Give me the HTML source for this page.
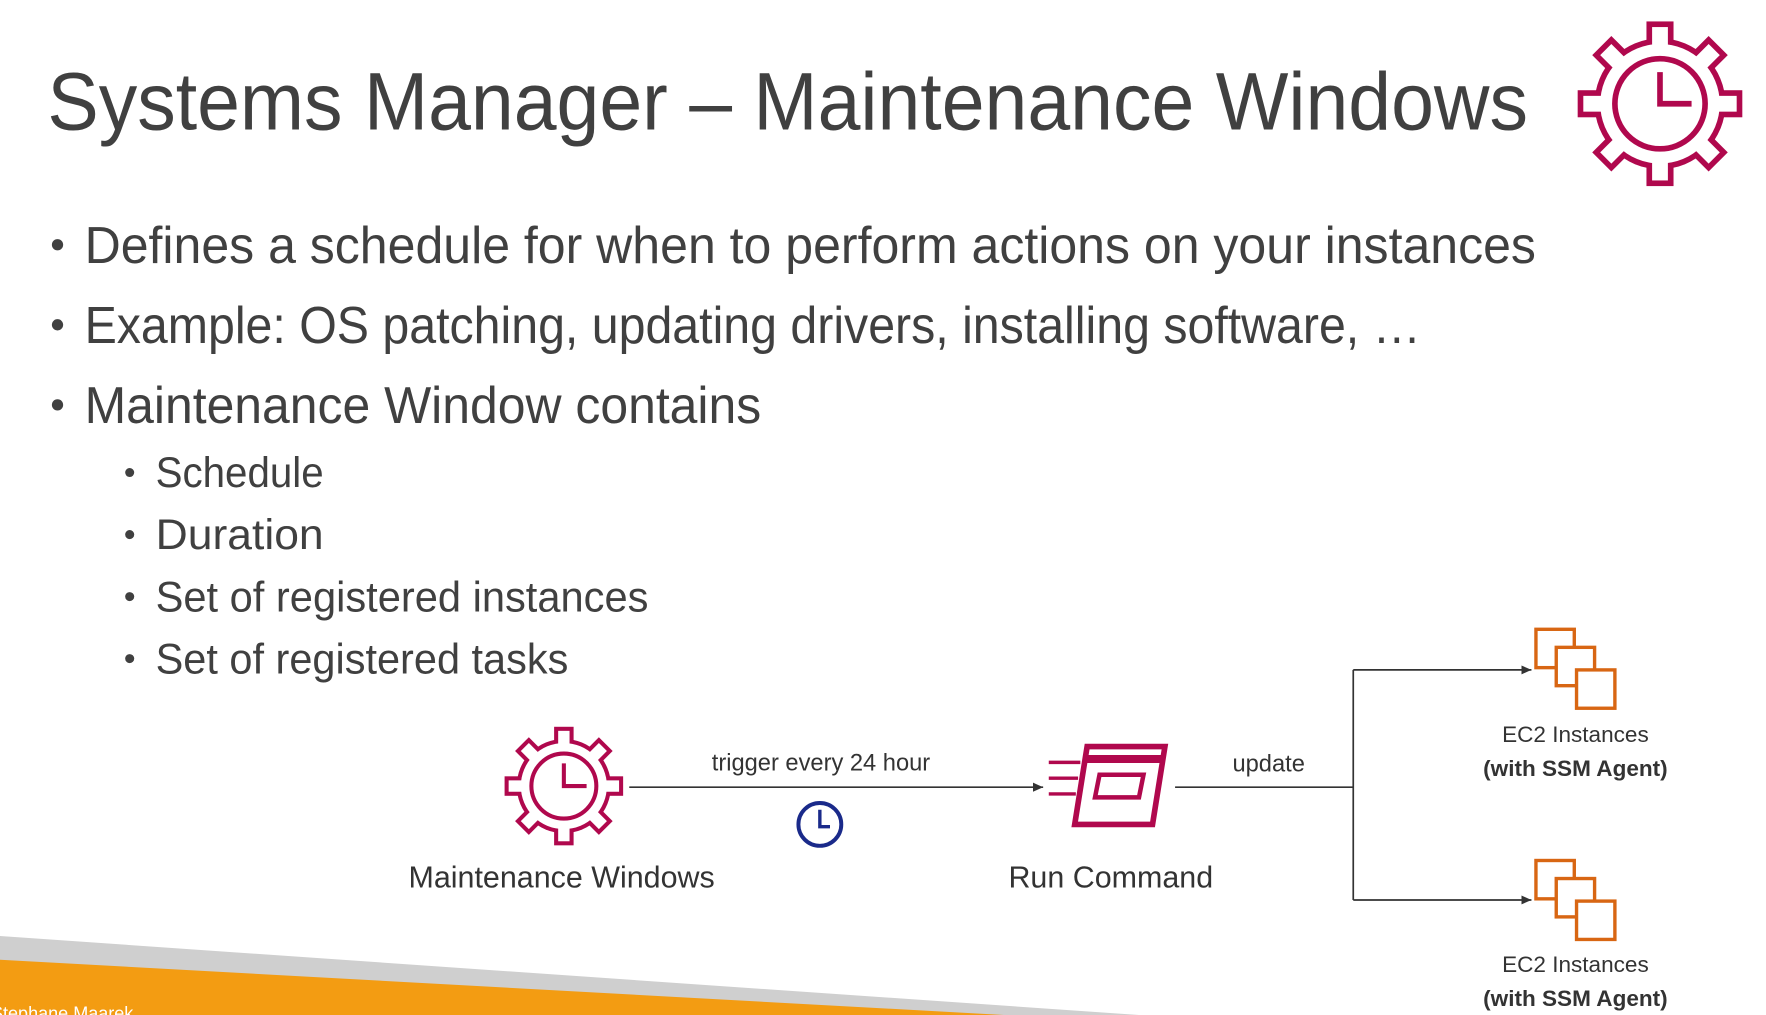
<!DOCTYPE html>
<html><head><meta charset="utf-8"><style>html,body{margin:0;padding:0;background:#fff;overflow:hidden}svg{display:block}</style></head>
<body>
<svg width="1766" height="1015" viewBox="0 0 1566 900" preserveAspectRatio="none" xmlns="http://www.w3.org/2000/svg">
<defs>
<g id="gear">
  <g fill="#b0084d">
    <circle r="58"/>
    <g id="teeth"><rect x="-12" y="-73" width="24" height="30"/></g>
    <use href="#teeth" transform="rotate(45)"/><use href="#teeth" transform="rotate(90)"/><use href="#teeth" transform="rotate(135)"/>
    <use href="#teeth" transform="rotate(180)"/><use href="#teeth" transform="rotate(225)"/><use href="#teeth" transform="rotate(270)"/><use href="#teeth" transform="rotate(315)"/>
  </g>
  <g fill="#fff">
    <circle r="53"/>
    <g id="t2"><rect x="-7" y="-68" width="14" height="30"/></g>
    <use href="#t2" transform="rotate(45)"/><use href="#t2" transform="rotate(90)"/><use href="#t2" transform="rotate(135)"/>
    <use href="#t2" transform="rotate(180)"/><use href="#t2" transform="rotate(225)"/><use href="#t2" transform="rotate(270)"/><use href="#t2" transform="rotate(315)"/>
  </g>
  <circle r="40" fill="none" stroke="#b0084d" stroke-width="5"/>
  <path d="M0,-28 V0 H28" fill="none" stroke="#b0084d" stroke-width="5"/>
</g>
<g id="ec2" fill="none" stroke="#d86613" stroke-width="3">
  <rect x="0" y="0" width="34" height="34" fill="#fff"/>
  <rect x="18" y="16" width="34" height="34" fill="#fff"/>
  <rect x="36" y="36" width="34" height="34" fill="#fff"/>
</g>
<marker id="ah" markerWidth="10" markerHeight="10" refX="9" refY="5" orient="auto" markerUnits="userSpaceOnUse"><path d="M0,1 L9,5 L0,9z" fill="#333"/></marker>
</defs>

<g font-family="'Liberation Sans', sans-serif" fill="#404040">
<text x="42" y="115" font-size="72" textLength="1313" lengthAdjust="spacingAndGlyphs">Systems Manager – Maintenance Windows</text>
<g font-size="46">
<circle cx="51" cy="217" r="5"/><text x="75" y="233" textLength="1287" lengthAdjust="spacingAndGlyphs">Defines a schedule for when to perform actions on your instances</text>
<circle cx="51" cy="288" r="5"/><text x="75" y="304" textLength="1185" lengthAdjust="spacingAndGlyphs">Example: OS patching, updating drivers, installing software, …</text>
<circle cx="51" cy="359" r="5"/><text x="75" y="375" textLength="600" lengthAdjust="spacingAndGlyphs">Maintenance Window contains</text>
</g>
<g font-size="38">
<circle cx="115" cy="419" r="4"/><text x="138" y="432" textLength="149" lengthAdjust="spacingAndGlyphs">Schedule</text>
<circle cx="115" cy="474" r="4"/><text x="138" y="487" textLength="149" lengthAdjust="spacingAndGlyphs">Duration</text>
<circle cx="115" cy="529" r="4"/><text x="138" y="542" textLength="437" lengthAdjust="spacingAndGlyphs">Set of registered instances</text>
<circle cx="115" cy="584" r="4"/><text x="138" y="597" textLength="366" lengthAdjust="spacingAndGlyphs">Set of registered tasks</text>
</g>
</g>

<use href="#gear" transform="translate(1472,92)"/>
<use href="#gear" transform="translate(500,697) scale(0.72)"/>

<g stroke="#333" stroke-width="1.5" fill="none">
<line x1="558" y1="698" x2="925" y2="698" marker-end="url(#ah)"/>
<line x1="1042" y1="698" x2="1200" y2="698"/>
<line x1="1200" y1="594" x2="1200" y2="798"/>
<line x1="1200" y1="594" x2="1358" y2="594" marker-end="url(#ah)"/>
<line x1="1200" y1="798" x2="1358" y2="798" marker-end="url(#ah)"/>
</g>

<circle cx="727" cy="731" r="19" fill="none" stroke="#1a2a8a" stroke-width="3.5"/>
<path d="M727,718 V733 H736" fill="none" stroke="#1a2a8a" stroke-width="3"/>

<g fill="none" stroke="#b0084d" stroke-width="5">
<path d="M964,662 L1033,662 L1022,731 L953,731 Z"/>
<line x1="963" y1="673" x2="1031" y2="673" stroke-width="7"/>
<path d="M975,687 L1014,687 L1010,707 L971,707 Z" stroke-width="4"/>
<line x1="930" y1="676" x2="958" y2="676" stroke-width="3"/>
<line x1="930" y1="690" x2="956" y2="690" stroke-width="3"/>
<line x1="930" y1="704" x2="954" y2="704" stroke-width="3"/>
</g>

<use href="#ec2" transform="translate(1362,558)"/>
<use href="#ec2" transform="translate(1362,763)"/>

<g font-family="'Liberation Sans', sans-serif" fill="#333" text-anchor="middle">
<text x="728" y="683" font-size="21">trigger every 24 hour</text>
<text x="1125" y="684" font-size="21">update</text>
<text x="498" y="787" font-size="27">Maintenance Windows</text>
<text x="985" y="787" font-size="27">Run Command</text>
<text x="1397" y="658" font-size="20">EC2 Instances</text>
<text x="1397" y="688" font-size="20" font-weight="bold">(with SSM Agent)</text>
<text x="1397" y="862" font-size="20">EC2 Instances</text>
<text x="1397" y="892" font-size="20" font-weight="bold">(with SSM Agent)</text>
</g>

<polygon points="0,830 1010,900 0,900" fill="#cfcfcf"/>
<polygon points="0,851 890,900 0,900" fill="#f39c12"/>
<text x="-8" y="904" font-family="'Liberation Sans', sans-serif" font-size="16" fill="#fff">Stephane Maarek</text>
</svg>
</body></html>
